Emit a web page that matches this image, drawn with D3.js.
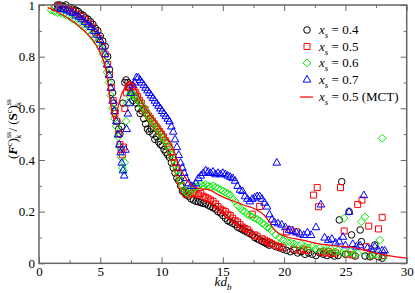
<!DOCTYPE html>
<html>
<head>
<meta charset="utf-8">
<script src="https://cdn.jsdelivr.net/npm/d3@7"></script>
<style>
  body { margin: 0; background: #fff; }
  svg { display: block; }
  text { font-family: "Liberation Serif", "DejaVu Serif", serif; }
</style>
</head>
<body>
<svg id="chart" width="415" height="293"></svg>
<script>
// x_s = 0.4 (black circles)
const s04 = [[1.5,1.0],[1.7,1.0],[2.0,0.995],[2.2,1.0],[2.4,0.99],[2.6,0.99],[2.8,0.985],[3.0,0.98],[3.2,0.975],[3.4,0.965],
  [3.6,0.96],[3.8,0.95],[4.0,0.945],[4.2,0.935],[4.4,0.925],[4.6,0.91],[4.8,0.9],[5.0,0.88],[5.2,0.86],[5.4,0.84],
  [5.6,0.8],[5.75,0.75],[5.9,0.7],[6.0,0.66],[6.1,0.62],[6.2,0.59],[6.35,0.55],[6.5,0.52],[6.6,0.5],[6.75,0.53],
  [6.85,0.62],[7.0,0.7],[7.1,0.71],[7.25,0.7],[7.4,0.68],[7.5,0.66],[7.65,0.63],[7.8,0.64],[7.95,0.62],[8.1,0.6],
  [8.25,0.58],[8.4,0.59],[8.55,0.56],[8.7,0.54],[8.85,0.52],[9.0,0.51],[9.15,0.52],[9.3,0.5],[9.45,0.48],[9.6,0.49],
  [9.75,0.47],[9.9,0.46],[10.05,0.455],[10.2,0.44],[10.35,0.43],[10.5,0.42],[10.65,0.41],[10.8,0.39],[10.95,0.37],[11.1,0.35],
  [11.25,0.33],[11.4,0.32],[11.55,0.3],[11.7,0.28],[11.85,0.275],[12.0,0.265],[12.2,0.26],[12.4,0.25],[12.6,0.245],[12.8,0.24],
  [13.0,0.238],[13.2,0.235],[13.4,0.232],[13.6,0.23],[13.8,0.225],[14.0,0.22],[14.2,0.215],[14.4,0.21],[14.6,0.2],[14.8,0.195],
  [15.0,0.185],[15.2,0.175],[15.4,0.165],[15.6,0.16],[15.8,0.155],[16.0,0.15],[16.2,0.14],[16.4,0.135],[16.6,0.13],[16.8,0.125],
  [17.0,0.12],[17.2,0.115],[17.4,0.11],[17.6,0.1],[17.8,0.095],[18.0,0.09],[18.2,0.085],[18.4,0.08],[18.6,0.075],[18.8,0.07],
  [19.0,0.075],[19.3,0.065],[19.6,0.06],[19.9,0.055],[20.2,0.05],[20.5,0.045],[20.8,0.05],[21.1,0.04],[21.4,0.045],[21.7,0.035],
  [22.0,0.04],[22.3,0.035],[22.6,0.03],[22.9,0.04],[23.2,0.035],[23.5,0.03],[23.8,0.035],[24.1,0.028],[24.4,0.03],[24.5,0.168],
  [24.7,0.316],[25.0,0.035],[25.3,0.2],[25.5,0.11],[25.8,0.028],[26.2,0.129],[26.3,0.084],[26.6,0.028],[27.0,0.025],[27.4,0.071],
  [27.7,0.025],[28.0,0.02]];

// x_s = 0.5 (red squares)
const s05 = [[1.3,0.99],[1.6,0.995],[1.9,0.99],[2.2,0.985],[2.5,0.98],[2.8,0.975],[3.1,0.965],[3.4,0.955],[3.7,0.945],[4.0,0.93],
  [4.3,0.915],[4.6,0.895],[4.9,0.87],[5.2,0.84],[5.4,0.81],[5.6,0.77],[5.75,0.73],[5.9,0.68],[6.05,0.63],[6.2,0.58],
  [6.35,0.55],[6.5,0.5],[6.6,0.46],[6.7,0.44],[6.8,0.42],[6.9,0.45],[7.0,0.6],[7.15,0.66],[7.3,0.68],[7.45,0.69],
  [7.6,0.685],[7.75,0.67],[7.9,0.66],[8.05,0.645],[8.2,0.63],[8.35,0.62],[8.5,0.6],[8.65,0.595],[8.8,0.58],[8.95,0.57],
  [9.1,0.56],[9.25,0.55],[9.4,0.54],[9.55,0.53],[9.7,0.52],[9.85,0.51],[10.0,0.5],[10.15,0.49],[10.3,0.475],[10.45,0.465],
  [10.6,0.45],[10.75,0.43],[10.9,0.41],[11.05,0.39],[11.2,0.37],[11.35,0.35],[11.5,0.32],[11.65,0.3],[11.8,0.28],[12.0,0.27],
  [12.2,0.265],[12.4,0.27],[12.6,0.275],[12.8,0.27],[13.0,0.265],[13.2,0.27],[13.4,0.26],[13.6,0.255],[13.8,0.25],[14.0,0.245],
  [14.2,0.24],[14.4,0.23],[14.6,0.22],[14.8,0.21],[15.0,0.205],[15.2,0.2],[15.4,0.19],[15.6,0.185],[15.8,0.175],[16.0,0.165],
  [16.2,0.16],[16.4,0.15],[16.6,0.14],[16.8,0.135],[17.0,0.13],[17.2,0.12],[17.4,0.19],[17.6,0.11],[17.8,0.105],[18.0,0.22],
  [18.2,0.095],[18.4,0.09],[18.6,0.085],[18.8,0.08],[19.0,0.075],[19.3,0.07],[19.6,0.065],[19.9,0.06],[20.2,0.122],[20.5,0.13],
  [20.8,0.055],[21.0,0.122],[21.3,0.05],[21.6,0.055],[21.9,0.05],[22.4,0.264],[22.7,0.293],[22.8,0.219],[23.0,0.045],[23.3,0.04],
  [23.6,0.045],[23.9,0.038],[24.2,0.04],[24.6,0.293],[24.9,0.125],[25.2,0.035],[25.6,0.032],[26.0,0.228],[26.35,0.245],[26.7,0.064],
  [26.9,0.144],[27.2,0.03],[27.7,0.133],[28.0,0.178],[28.1,0.03]];

// x_s = 0.6 (green diamonds)
const s06 = [[1.0,0.98],[1.25,0.975],[1.5,0.97],[1.75,0.97],[2.0,0.965],[2.25,0.96],[2.5,0.955],[2.75,0.945],[3.0,0.94],[3.25,0.93],
  [3.5,0.92],[3.75,0.91],[4.0,0.9],[4.25,0.885],[4.5,0.87],[4.75,0.855],[5.0,0.835],[5.2,0.81],[5.4,0.78],[5.55,0.74],
  [5.7,0.7],[5.85,0.65],[6.0,0.6],[6.15,0.56],[6.3,0.53],[6.45,0.49],[6.6,0.45],[6.7,0.41],[6.8,0.37],[6.9,0.36],
  [7.0,0.39],[7.1,0.55],[7.2,0.62],[7.35,0.65],[7.5,0.66],[7.65,0.655],[7.8,0.65],[7.95,0.64],[8.1,0.63],[8.25,0.62],
  [8.4,0.61],[8.55,0.6],[8.7,0.59],[8.85,0.575],[9.0,0.565],[9.15,0.555],[9.3,0.545],[9.45,0.54],[9.6,0.525],[9.75,0.515],
  [9.9,0.505],[10.05,0.49],[10.2,0.48],[10.35,0.47],[10.5,0.455],[10.65,0.44],[10.8,0.42],[10.95,0.4],[11.1,0.38],[11.25,0.36],
  [11.4,0.34],[11.55,0.32],[11.7,0.3],[11.85,0.285],[12.0,0.275],[12.2,0.27],[12.4,0.28],[12.6,0.29],[12.8,0.295],[13.0,0.3],
  [13.2,0.305],[13.4,0.3],[13.6,0.305],[13.8,0.3],[14.0,0.295],[14.2,0.3],[14.4,0.295],[14.6,0.29],[14.8,0.285],[15.0,0.28],
  [15.2,0.275],[15.4,0.27],[15.6,0.265],[15.8,0.25],[16.0,0.24],[16.2,0.225],[16.4,0.215],[16.6,0.205],[16.8,0.2],[17.0,0.19],
  [17.2,0.185],[17.4,0.18],[17.6,0.175],[17.8,0.17],[18.0,0.165],[18.2,0.155],[18.4,0.15],[18.6,0.14],[18.8,0.135],[19.0,0.125],
  [19.3,0.11],[19.6,0.1],[19.9,0.09],[20.2,0.085],[20.5,0.08],[20.8,0.075],[21.1,0.07],[21.4,0.075],[21.7,0.065],[22.0,0.06],
  [22.3,0.065],[22.6,0.055],[22.9,0.06],[23.2,0.05],[23.5,0.05],[23.8,0.055],[24.1,0.045],[24.4,0.05],[24.7,0.04],[24.9,0.175],
  [25.1,0.04],[25.4,0.045],[25.7,0.035],[26.0,0.04],[26.3,0.161],[26.6,0.18],[26.9,0.035],[27.2,0.03],[27.5,0.035],[27.8,0.09],
  [28.0,0.484],[28.1,0.025]];

// x_s = 0.7 (blue triangles)
const s07 = [[1.5,0.99],[1.75,0.985],[2.0,0.985],[2.25,0.98],[2.5,0.975],[2.75,0.97],[3.0,0.96],[3.25,0.955],[3.5,0.945],[3.75,0.935],
  [4.0,0.925],[4.25,0.915],[4.5,0.9],[4.75,0.885],[5.0,0.865],[5.2,0.84],[5.4,0.81],[5.55,0.77],[5.7,0.73],[5.85,0.68],
  [6.0,0.63],[6.15,0.59],[6.3,0.55],[6.45,0.5],[6.55,0.46],[6.65,0.43],[6.75,0.39],[6.85,0.36],[6.95,0.34],[7.05,0.44],
  [7.15,0.52],[7.25,0.58],[7.35,0.62],[7.5,0.66],[7.65,0.69],[7.8,0.7],[7.95,0.72],[8.1,0.72],[8.25,0.71],[8.4,0.7],
  [8.55,0.69],[8.7,0.68],[8.85,0.67],[9.0,0.66],[9.15,0.65],[9.3,0.64],[9.45,0.63],[9.6,0.62],[9.75,0.61],[9.9,0.6],
  [10.05,0.59],[10.2,0.58],[10.35,0.57],[10.5,0.56],[10.65,0.55],[10.8,0.53],[10.95,0.51],[11.1,0.48],[11.25,0.45],[11.4,0.42],
  [11.55,0.39],[11.7,0.37],[11.85,0.35],[12.0,0.33],[12.2,0.31],[12.4,0.3],[12.6,0.3],[12.8,0.31],[13.0,0.33],[13.2,0.34],
  [13.4,0.35],[13.6,0.36],[13.8,0.355],[14.0,0.35],[14.2,0.355],[14.4,0.345],[14.6,0.35],[14.8,0.345],[15.0,0.35],[15.2,0.345],
  [15.4,0.34],[15.6,0.335],[15.8,0.33],[16.0,0.32],[16.2,0.3],[16.4,0.285],[16.6,0.28],[16.8,0.26],[17.0,0.25],[17.2,0.24],
  [17.4,0.25],[17.6,0.255],[17.8,0.26],[18.0,0.26],[18.2,0.25],[18.4,0.235],[18.6,0.22],[18.8,0.19],[19.0,0.17],[19.2,0.16],
  [19.4,0.39],[19.5,0.155],[19.8,0.15],[20.1,0.14],[20.4,0.13],[20.7,0.125],[21.0,0.12],[21.3,0.115],[21.6,0.11],[21.9,0.12],
  [22.2,0.11],[22.6,0.14],[23.0,0.228],[23.3,0.1],[23.6,0.09],[23.9,0.095],[24.2,0.08],[24.5,0.085],[24.8,0.103],[25.0,0.07],
  [25.3,0.2],[25.6,0.075],[25.9,0.065],[26.2,0.07],[26.5,0.264],[26.8,0.06],[27.1,0.055],[27.4,0.065],[27.7,0.05],[28.0,0.05],
  [28.2,0.05]];

// x_s = 0.5 (MCT) line
const mct = [[0.7,0.99],[1.0,0.985],[1.7,0.968],[2.5,0.945],[3.3,0.917],[4.0,0.885],[4.4,0.864],[5.0,0.814],[5.4,0.761],[5.6,0.71],
  [5.8,0.632],[6.0,0.575],[6.15,0.558],[6.3,0.57],[6.5,0.615],[6.7,0.65],[7.0,0.68],[7.2,0.697],[7.4,0.703],[7.7,0.69],
  [8.0,0.66],[8.5,0.615],[9.0,0.58],[9.5,0.55],[10.0,0.515],[10.5,0.48],[10.9,0.45],[11.4,0.38],[11.9,0.335],[12.5,0.3],
  [13.0,0.29],[13.9,0.284],[14.7,0.264],[15.6,0.245],[16.2,0.235],[16.9,0.222],[17.4,0.215],[18.0,0.2],[18.4,0.185],[18.8,0.16],
  [19.1,0.136],[19.5,0.118],[20.2,0.103],[21.5,0.09],[22.9,0.075],[24.0,0.068],[25.6,0.062],[27.0,0.045],[28.5,0.03],[30.0,0.02]];

const xTicks = [0, 5, 10, 15, 20, 25, 30];
const yTicks = [0, 0.2, 0.4, 0.6, 0.8, 1];
const legendLabels = ["0.4", "0.5", "0.6", "0.7", "0.5 (MCT)"];

const FONT = "Liberation Serif, DejaVu Serif, serif";
const svg = d3.select("#chart");
const x = d3.scaleLinear().domain([0, 30]).range([39, 406.7]);
const y = d3.scaleLinear().domain([0, 1]).range([263.3, 5]);

// marker shapes, centered on 0,0
function marker(type) {
  if (type === "circle") return "M3.3,0A3.3,3.3 0 1,1 -3.3,0A3.3,3.3 0 1,1 3.3,0Z";
  if (type === "square") return "M-3,-3H3V3H-3Z";
  if (type === "diamond") return "M0,-3.9L3.9,0L0,3.9L-3.9,0Z";
  return "M0,-4.1L3.8,2.6L-3.8,2.6Z";
}

const series = [
  {data: s04, color: "#000000", type: "circle"},
  {data: s05, color: "#ff0000", type: "square"},
  {data: s06, color: "#00ee00", type: "diamond"},
  {data: s07, color: "#0000ff", type: "triangle"}
];

const plot = svg.append("g");
series.forEach(function(s) {
  plot.append("g").selectAll("path").data(s.data).enter().append("path")
    .attr("d", marker(s.type))
    .attr("transform", d => `translate(${x(d[0])},${y(d[1])})`)
    .attr("fill", "none").attr("stroke", s.color).attr("stroke-width", 1);
});

const line = d3.line().x(d => x(d[0])).y(d => y(d[1])).curve(d3.curveMonotoneX);
plot.append("path").attr("d", line(mct)).attr("fill", "none").attr("stroke", "#ff0000").attr("stroke-width", 1.2);

// axes, ticks pointing inward on all four sides
const axisColor = "#666";
function styleAxis(g) {
  g.attr("font-family", FONT).attr("font-size", 13);
  g.selectAll(".domain").remove();
  g.selectAll("line").attr("stroke", axisColor).attr("stroke-width", 1);
  g.selectAll("text").attr("fill", "#000");
}
const xMinor = d3.range(2.5, 30, 5);
const yMinor = d3.range(0.1, 1, 0.2);

svg.append("g").attr("transform", `translate(0,${y(0)})`)
  .call(d3.axisBottom(x).tickValues(xTicks).tickSize(-6).tickPadding(3).tickFormat(d3.format("d"))).call(styleAxis);
svg.append("g").attr("transform", `translate(0,${y(0)})`)
  .call(d3.axisBottom(x).tickValues(xMinor).tickSize(-3).tickFormat("")).call(styleAxis);
svg.append("g").attr("transform", `translate(0,${y(1)})`)
  .call(d3.axisTop(x).tickValues(xTicks).tickSize(-6).tickFormat("")).call(styleAxis);
svg.append("g").attr("transform", `translate(0,${y(1)})`)
  .call(d3.axisTop(x).tickValues(xMinor).tickSize(-3).tickFormat("")).call(styleAxis);

svg.append("g").attr("transform", `translate(${x(0)},0)`)
  .call(d3.axisLeft(y).tickValues(yTicks).tickSize(-6).tickPadding(4).tickFormat(d => d === 0 || d === 1 ? d3.format("d")(d) : d3.format(".1f")(d))).call(styleAxis);
svg.append("g").attr("transform", `translate(${x(0)},0)`)
  .call(d3.axisLeft(y).tickValues(yMinor).tickSize(-3).tickFormat("")).call(styleAxis);
svg.append("g").attr("transform", `translate(${x(30)},0)`)
  .call(d3.axisRight(y).tickValues(yTicks).tickSize(-6).tickFormat("")).call(styleAxis);
svg.append("g").attr("transform", `translate(${x(30)},0)`)
  .call(d3.axisRight(y).tickValues(yMinor).tickSize(-3).tickFormat("")).call(styleAxis);

svg.append("rect").attr("x", x(0)).attr("y", y(1)).attr("width", x(30) - x(0)).attr("height", y(0) - y(1))
  .attr("fill", "none").attr("stroke", axisColor).attr("stroke-width", 1.5);

// axis titles
const xt = svg.append("text").attr("x", 223).attr("y", 286).attr("text-anchor", "middle")
  .attr("font-family", FONT).attr("font-size", 13).attr("font-style", "italic");
xt.append("tspan").text("kd");
xt.append("tspan").text("b").attr("font-size", 9).attr("dy", 4);

const yt = svg.append("text").attr("transform", "translate(17,129) rotate(-90)").attr("text-anchor", "middle")
  .attr("font-family", FONT).attr("font-size", 13);
yt.append("tspan").text("(");
yt.append("tspan").text("F").attr("font-weight", "bold").attr("font-style", "italic");
yt.append("tspan").text("c").attr("font-size", 8).attr("dy", -5);
yt.append("tspan").text(")").attr("dy", 5);
yt.append("tspan").text("ss").attr("font-size", 8).attr("dy", -6);
yt.append("tspan").text("k").attr("font-size", 8).attr("dx", -7).attr("dy", 10);
yt.append("tspan").text(" / (").attr("dy", -4);
yt.append("tspan").text("S").attr("font-weight", "bold");
yt.append("tspan").text("c").attr("font-size", 8).attr("dy", -5);
yt.append("tspan").text(")").attr("dy", 5);
yt.append("tspan").text("ss").attr("font-size", 8).attr("dy", -6);
yt.append("tspan").text("k").attr("font-size", 8).attr("dx", -7).attr("dy", 10);

// legend
const legendY = [30, 46.5, 63, 79.5, 97];
const lg = svg.append("g");
legendLabels.forEach(function(lab, i) {
  const cy = legendY[i];
  if (i < 4) {
    lg.append("path").attr("d", marker(series[i].type)).attr("transform", `translate(307,${cy})`)
      .attr("fill", "none").attr("stroke", series[i].color).attr("stroke-width", 1);
  } else {
    lg.append("line").attr("x1", 300).attr("x2", 313).attr("y1", cy).attr("y2", cy)
      .attr("stroke", "#ff0000").attr("stroke-width", 1.2);
  }
  const t = lg.append("text").attr("x", 319).attr("y", cy + 4).attr("font-family", FONT).attr("font-size", 13);
  t.append("tspan").text("x").attr("font-style", "italic");
  t.append("tspan").text("s").attr("font-style", "italic").attr("font-size", 9).attr("dy", 4);
  t.append("tspan").text(" = " + lab).attr("dy", -4);
});
</script>
</body>
</html>
